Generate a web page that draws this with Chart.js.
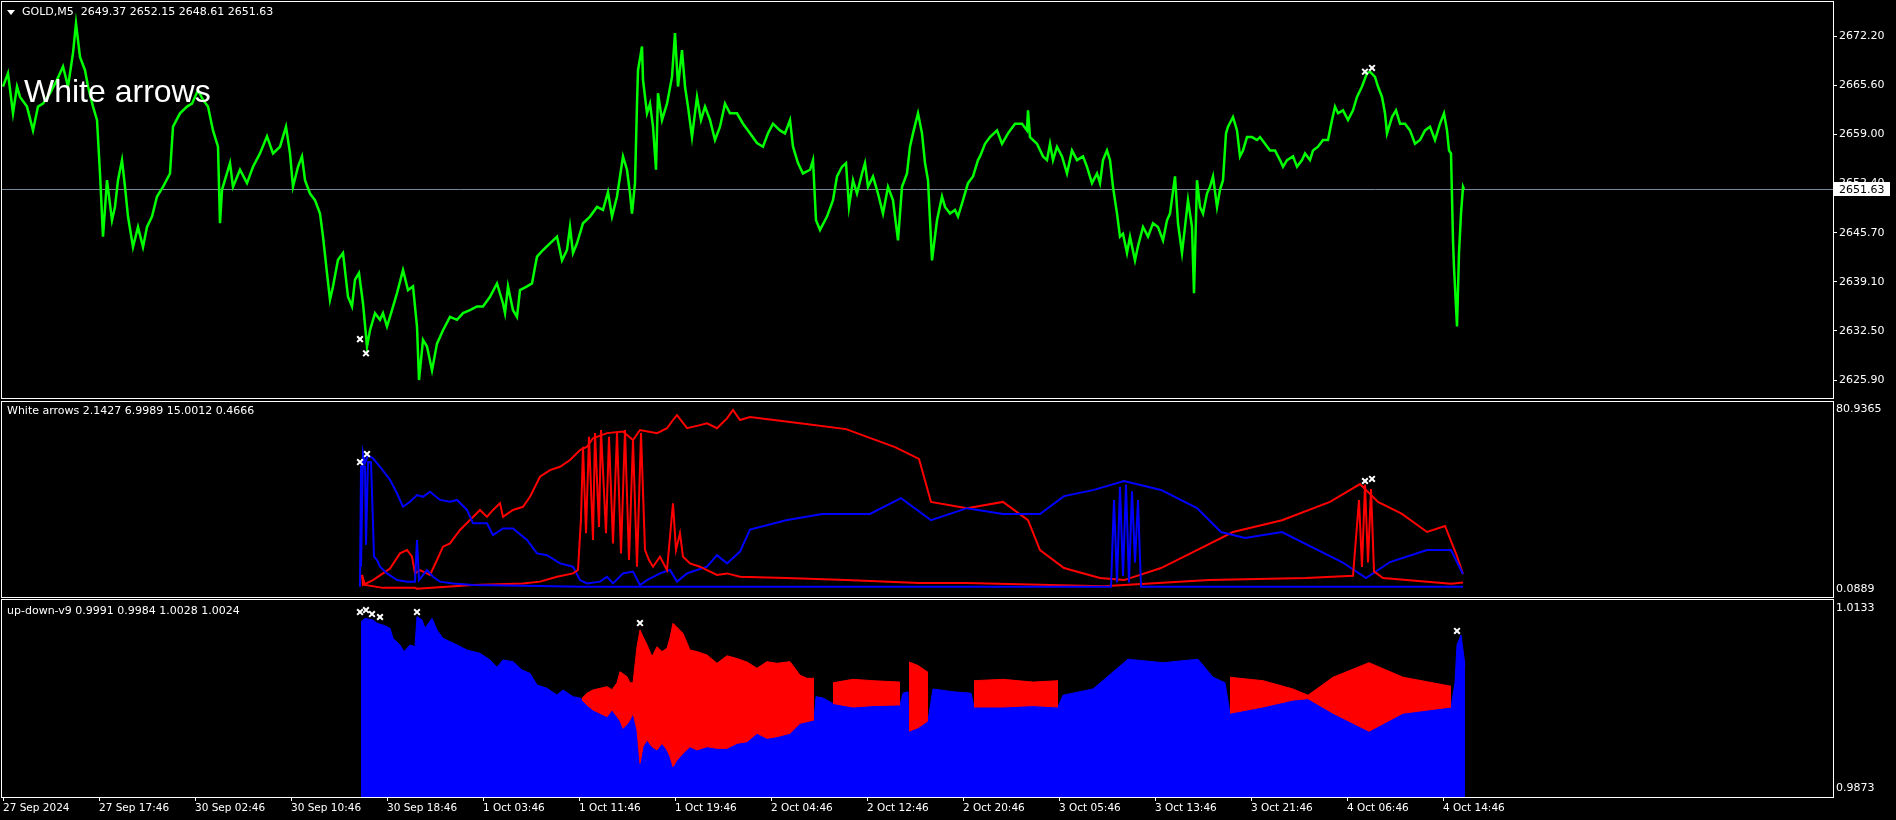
<!DOCTYPE html>
<html>
<head>
<meta charset="utf-8">
<script src="https://cdn.jsdelivr.net/npm/chart.js@4.4.1/dist/chart.umd.min.js"></script>
<style>
  html, body { margin: 0; background: #000; overflow: hidden; }
  #wrap { position: relative; width: 1896px; height: 820px; }
  .pane { position: absolute; left: 0; width: 1896px; }
  .txt { position: absolute; color: #fff; font-family: "DejaVu Sans", sans-serif; font-size: 11px; line-height: 14px; white-space: pre; pointer-events: none; }
  #tri { position: absolute; left: 7px; top: 10px; width: 0; height: 0; border-left: 4px solid transparent; border-right: 4px solid transparent; border-top: 5px solid #fff; }
  #big { position: absolute; left: 24px; top: 75px; color: #fff; font-family: "Liberation Sans", Arial, sans-serif; font-size: 32px; line-height: 32px; pointer-events: none; }
</style>
</head>
<body>
<div id="wrap">
  <div class="pane" style="top:0;height:400px"><canvas id="priceChart"></canvas></div>
  <div class="pane" style="top:400px;height:199px"><canvas id="arrowsChart"></canvas></div>
  <div class="pane" style="top:598px;height:222px"><canvas id="updownChart"></canvas></div>
  <div id="tri"></div>
  <div class="txt" style="left:22px;top:5px">GOLD,M5  2649.37 2652.15 2648.61 2651.63</div>
  <div id="big">White arrows</div>
  <div class="txt" style="left:7px;top:404px">White arrows 2.1427 6.9989 15.0012 0.4666</div>
  <div class="txt" style="left:7px;top:604px">up-down-v9 0.9991 0.9984 1.0028 1.0024</div>
</div>
<script>
// ---- axis labels ----
const timeBars = [0, 96, 192, 288, 384, 480, 576, 672, 768, 864, 960, 1056, 1152, 1248, 1344, 1440];
const timeLabels = ["27 Sep 2024", "27 Sep 17:46", "30 Sep 02:46", "30 Sep 10:46", "30 Sep 18:46", "1 Oct 03:46",
  "1 Oct 11:46", "1 Oct 19:46", "2 Oct 04:46", "2 Oct 12:46", "2 Oct 20:46", "3 Oct 05:46", "3 Oct 13:46",
  "3 Oct 21:46", "4 Oct 06:46", "4 Oct 14:46"];
const priceTicks = [2625.90, 2632.50, 2639.10, 2645.70, 2652.40, 2659.00, 2665.60, 2672.20];
const lastClose = 2651.63;

// ---- GOLD M5 close (bar index, price) ----
const priceBars = [0, 5, 10, 14, 17, 24, 30, 35, 40, 47, 54, 60, 65, 70, 73, 77, 82, 85, 90, 94, 97, 100, 104, 109, 112, 115, 119, 122, 125, 130,
  135, 140, 144, 149, 154, 160, 167, 170, 177, 184, 189, 195, 200, 205, 210, 215, 217, 219, 227, 230, 237, 244, 250, 257, 264, 270, 277, 283, 287, 290,
  295, 299, 302, 307, 312, 317, 320, 324, 327, 330, 335, 340, 345, 349, 352, 356, 360, 364, 367, 372, 377, 380, 384, 389, 394, 400, 405, 410, 414, 416,
  420, 424, 429, 434, 440, 447, 454, 460, 467, 474, 480, 487, 494, 500, 502, 505, 510, 514, 517, 524, 529, 532, 534, 540, 547, 554, 559, 564, 567, 570,
  574, 580, 587, 594, 600, 605, 609, 614, 617, 620, 624, 627, 629, 632, 634, 635, 639, 640, 644, 647, 650, 653, 655, 659, 664, 669, 672, 675, 679, 682,
  685, 689, 694, 698, 702, 707, 712, 717, 722, 727, 734, 740, 747, 754, 760, 765, 770, 777, 782, 787, 790, 795, 800, 807, 810, 813, 817, 824, 830, 834,
  839, 843, 846, 850, 854, 859, 862, 865, 870, 875, 880, 885, 890, 895, 899, 904, 907, 910, 915, 919, 922, 925, 929, 934, 939, 942, 947, 952, 955, 960,
  965, 970, 975, 977, 982, 987, 994, 999, 1005, 1012, 1019, 1024, 1025, 1027, 1034, 1040, 1044, 1047, 1050, 1054, 1059, 1064, 1069, 1074, 1080, 1084, 1089, 1094,
  1097, 1100, 1104, 1107, 1110, 1114, 1117, 1120, 1124, 1127, 1132, 1135, 1140, 1145, 1150, 1155, 1160, 1164, 1167, 1172, 1175, 1179, 1182, 1185, 1189, 1191,
  1194, 1197, 1200, 1204, 1207, 1210, 1214, 1217, 1220, 1223, 1225, 1230, 1234, 1237, 1240, 1244, 1249, 1254, 1257, 1262, 1267, 1272, 1277, 1280, 1284, 1290,
  1294, 1299, 1302, 1307, 1310, 1315, 1320, 1325, 1329, 1332, 1335, 1340, 1345, 1350, 1354, 1359, 1364, 1367, 1372, 1375, 1379, 1382, 1384, 1389, 1393, 1397,
  1402, 1407, 1412, 1417, 1422, 1427, 1432, 1437, 1441, 1444, 1446, 1448, 1450, 1451, 1454, 1456, 1458, 1460, 1461];
const priceClose = [2665.4, 2667.2, 2661.8, 2665.4, 2664.0, 2662.7, 2659.5, 2662.7, 2663.1, 2664.5, 2666.3, 2668.1, 2665.4, 2669.9, 2673.9, 2669.4, 2667.6, 2665.4, 2662.7, 2660.9, 2653.7, 2645.2, 2652.8, 2647.4, 2649.2, 2652.8, 2655.5, 2651.9, 2647.9, 2643.8,
  2646.5, 2643.8, 2646.5, 2647.9, 2650.6, 2651.9, 2653.7, 2660.0, 2661.8, 2662.7, 2663.1, 2664.9, 2663.6, 2662.7, 2659.5, 2657.3, 2647.0, 2651.5, 2655.1, 2651.9, 2654.2, 2652.4, 2654.6, 2656.4, 2658.7, 2656.4, 2657.3, 2660.0, 2656.4, 2651.9,
  2654.6, 2656.0, 2652.8, 2651.0, 2650.1, 2648.3, 2645.2, 2640.3, 2636.7, 2638.5, 2642.1, 2643.0, 2637.1, 2635.8, 2639.4, 2640.3, 2636.2, 2630.4, 2632.6, 2634.9, 2634.0, 2634.9, 2633.1, 2635.3, 2637.6, 2640.7, 2638.0, 2638.5, 2633.1, 2625.9,
  2631.3, 2630.4, 2627.2, 2630.8, 2632.6, 2634.4, 2634.0, 2634.9, 2635.3, 2635.8, 2635.8, 2637.1, 2638.9, 2636.2, 2634.9, 2638.5, 2635.3, 2634.4, 2638.0, 2638.5, 2638.9, 2641.1, 2642.5, 2643.4, 2644.3, 2645.2, 2642.0, 2643.4, 2646.5, 2643.0,
  2644.3, 2647.0, 2647.9, 2649.2, 2648.8, 2651.2, 2647.9, 2650.6, 2653.3, 2656.0, 2654.2, 2651.0, 2648.3, 2652.4, 2663.1, 2667.6, 2670.8, 2666.3, 2661.8, 2663.1, 2660.0, 2654.2, 2664.5, 2660.9, 2663.1, 2666.7, 2672.6, 2665.4, 2670.3, 2665.4,
  2662.7, 2658.6, 2664.0, 2660.9, 2662.7, 2660.9, 2658.2, 2660.0, 2663.1, 2661.8, 2661.8, 2660.4, 2659.1, 2657.8, 2657.3, 2659.1, 2660.4, 2659.5, 2659.1, 2660.9, 2657.3, 2655.1, 2653.7, 2654.2, 2655.5, 2647.4, 2646.1, 2647.9, 2650.1, 2653.3,
  2654.6, 2655.1, 2649.2, 2652.8, 2651.0, 2653.7, 2655.1, 2651.9, 2653.3, 2651.0, 2648.3, 2651.9, 2650.1, 2644.7, 2651.9, 2653.7, 2657.3, 2659.1, 2661.8, 2659.1, 2655.1, 2652.8, 2642.0, 2647.4, 2650.6, 2649.2, 2648.3, 2648.8, 2647.9, 2650.1,
  2652.4, 2653.3, 2655.5, 2656.0, 2657.7, 2658.6, 2659.5, 2657.7, 2659.1, 2660.4, 2660.4, 2659.5, 2662.2, 2658.6, 2657.7, 2656.0, 2655.5, 2657.7, 2655.5, 2657.3, 2656.0, 2653.7, 2656.8, 2655.5, 2656.0, 2654.6, 2652.4, 2653.7,
  2652.4, 2655.5, 2656.8, 2655.5, 2651.9, 2648.3, 2645.2, 2645.6, 2643.0, 2645.2, 2642.0, 2643.9, 2646.5, 2645.2, 2647.0, 2646.5, 2644.7, 2647.4, 2648.3, 2653.3, 2647.0, 2643.0, 2646.5, 2650.1, 2646.5, 2637.6,
  2652.8, 2649.2, 2648.3, 2651.0, 2651.9, 2653.3, 2649.2, 2651.5, 2652.8, 2659.1, 2660.0, 2661.3, 2659.5, 2656.0, 2656.8, 2658.6, 2658.6, 2658.2, 2658.6, 2657.7, 2656.8, 2656.8, 2655.5, 2654.6, 2655.5, 2656.0,
  2654.6, 2655.5, 2656.4, 2655.5, 2656.8, 2657.3, 2658.2, 2658.2, 2660.9, 2662.7, 2661.8, 2662.2, 2660.9, 2662.2, 2664.0, 2665.4, 2667.2, 2667.4, 2666.7, 2665.4, 2664.0, 2661.8, 2659.1, 2661.3, 2662.2, 2660.4,
  2660.4, 2659.5, 2657.7, 2658.2, 2659.5, 2660.0, 2658.2, 2660.4, 2661.8, 2659.5, 2656.8, 2656.4, 2644.7, 2641.1, 2633.1, 2643.0, 2648.3, 2651.9, 2651.6];

// ---- white arrow marks ----
const markMainBars = [357, 363, 1362, 1369];
const markMainVals = [2631.4, 2629.5, 2667.4, 2667.9];
const markOscBars = [357, 364, 1362, 1369];
const markOscVals = [57.1, 60.7, 48.6, 49.5];
const markUdBars = [357, 363, 369, 377, 414, 637, 1454];
const markUdVals = [1.01272, 1.01301, 1.01243, 1.01200, 1.01272, 1.01113, 1.00998];

// ---- White arrows oscillator ----
const blueUpBars = [358, 360, 362, 365, 370, 377, 387, 394, 400, 407, 414, 420, 427, 437, 447, 454, 464, 470, 484, 490, 500, 510, 524, 534, 544, 557, 570, 577, 584, 597,
  604, 610, 620, 630, 637, 644, 657, 667, 674, 684, 694, 704, 714, 724, 737, 747, 783, 819, 867, 898, 928, 964, 1000, 1037, 1061, 1091, 1121, 1158, 1194, 1218,
  1242, 1279, 1315, 1339, 1363, 1387, 1424, 1448, 1460];
const blueUpVals = [10.1, 61.1, 56.6, 60.2, 58.8, 55.0, 49.1, 43.1, 37.0, 39.3, 42.3, 41.5, 43.8, 40.1, 39.3, 40.1, 35.6, 29.6, 29.6, 24.3, 27.3, 27.3, 22.1, 16.1, 15.3, 11.6, 10.1, 4.1, 2.6, 3.4,
  5.6, 2.6, 7.1, 7.9, 1.9, 4.1, 7.1, 8.6, 3.4, 7.1, 8.6, 10.1, 15.3, 11.6, 16.9, 26.8, 31.0, 33.8, 33.8, 40.9, 31.0, 36.4, 33.8, 33.8, 41.8, 44.6, 48.6, 44.6, 36.4, 25.7,
  23.0, 25.7, 17.6, 12.2, 5.0, 12.2, 17.6, 17.6, 6.8];
const blueLoBars = [357, 358, 362, 363, 365, 368, 370, 371, 374, 377, 384, 394, 404, 412, 414, 416, 424, 430, 437, 450, 470, 537, 577, 1108, 1111, 1114, 1117, 1120, 1123, 1126,
  1129, 1132, 1135, 1138, 1460];
const blueLoVals = [1.1, 55.0, 55.0, 20.0, 57.0, 57.0, 29.6, 14.6, 13.1, 10.1, 7.1, 4.1, 3.4, 3.4, 22.1, 4.1, 8.6, 5.6, 3.4, 2.6, 1.9, 1.4, 1.1, 1.1, 40.0, 3.0, 46.0, 6.0, 47.0, 3.0,
  44.0, 12.0, 40.0, 1.1, 1.1];
const redUpBars = [359, 360, 370, 380, 387, 397, 404, 409, 412, 417, 427, 434, 440, 447, 457, 467, 477, 484, 490, 497, 500, 510, 520, 527, 537, 547, 557, 567, 577, 584,
  590, 604, 620, 630, 637, 654, 664, 670, 674, 684, 697, 704, 714, 724, 730, 737, 747, 795, 843, 892, 916, 928, 964, 1000, 1025, 1037, 1061, 1097, 1121, 1158,
  1194, 1230, 1279, 1327, 1357, 1375, 1399, 1424, 1442, 1454, 1460];
const redUpVals = [6.4, 1.9, 4.1, 7.1, 9.3, 16.1, 17.6, 14.6, 7.1, 8.6, 6.4, 13.1, 19.1, 20.6, 26.6, 31.1, 35.6, 32.5, 35.6, 38.6, 32.5, 35.6, 37.0, 41.5, 50.5, 53.5, 55.0, 58.0, 62.5, 64.0,
  67.8, 70.1, 70.8, 67.0, 71.5, 70.1, 72.3, 76.0, 78.2, 72.3, 73.7, 74.5, 72.3, 76.7, 80.5, 76.0, 77.3, 74.7, 71.9, 63.8, 58.5, 39.2, 36.4, 39.2, 31.0, 17.6, 9.5, 5.0, 4.1, 9.5,
  17.6, 25.7, 31.0, 39.2, 47.2, 39.2, 33.8, 25.7, 28.4, 14.9, 6.8];
const redLoBars = [359, 362, 380, 412, 414, 470, 520, 537, 554, 570, 575, 578, 580, 583, 586, 590, 592, 596, 598, 603, 606, 610, 614, 618, 622, 626, 630, 634, 638, 642,
  646, 650, 657, 664, 670, 673, 677, 680, 687, 697, 704, 714, 724, 737, 783, 843, 916, 964, 1100, 1206, 1303, 1350, 1356, 1359, 1362, 1365, 1368, 1371, 1380, 1448,
  1460];
const redLoVals = [6.4, 1.9, 0.6, 0.6, 0.2, 1.9, 2.6, 3.4, 5.6, 7.1, 8.6, 31.8, 64.0, 25.1, 68.5, 22.1, 70.1, 28.0, 71.5, 25.1, 68.5, 20.6, 70.1, 16.1, 71.5, 13.1, 67.0, 10.1, 70.1, 17.6,
  13.1, 10.1, 14.6, 8.6, 38.6, 17.6, 25.1, 14.6, 11.6, 10.1, 8.6, 6.4, 7.1, 5.6, 5.0, 4.1, 2.8, 2.8, 1.3, 4.1, 5.0, 6.0, 40.0, 10.0, 47.0, 12.0, 45.0, 8.0, 5.0, 2.5,
  3.0];

// ---- up-down-v9 histogram ----
const blueBars = [358, 362, 370, 374, 380, 387, 390, 397, 401, 407, 412, 414, 419, 422, 429, 434, 440, 447, 454, 464, 477, 487, 494, 500, 510, 519, 527, 534, 544, 554,
  560, 570, 578, 813, 820, 900, 905, 930, 950, 968, 1060, 1090, 1125, 1160, 1195, 1210, 1222, 1452, 1454, 1458, 1462];
const blueTop = [1.01133, 1.01180, 1.01157, 1.01109, 1.01084, 1.01036, 1.00892, 1.00796, 1.00699, 1.00796, 1.00771, 1.01205, 1.01157, 1.01036, 1.01181, 1.01012, 1.00892, 1.00844, 1.00796, 1.00723, 1.00675, 1.00579, 1.00473, 1.00579, 1.00555, 1.00434, 1.00386, 1.00218, 1.00170, 1.00073,
  1.00146, 1.00049, 1.00025, 1.00049, 1.00030, 1.00100, 1.00120, 1.00160, 1.00120, 1.00100, 1.00070, 1.00160, 1.00590, 1.00540, 1.00590, 1.00330, 1.00250, 1.00250, 1.00800, 1.00940, 1.00500];
const redBars = [579, 584, 590, 597, 604, 609, 614, 617, 620, 624, 627, 630, 634, 637, 640, 644, 649, 654, 659, 664, 667, 670, 674, 680, 687, 694, 704, 714, 724, 734,
  744, 754, 764, 774, 787, 797, 804, 811, 812,
  830, 850, 870, 897, 898,
  906, 915, 925, 926,
  971, 1000, 1030, 1055, 1056,
  1227, 1260, 1290, 1305, 1330, 1366, 1400, 1448];
const redHi = [1.00025, 1.00100, 1.00146, 1.00170, 1.00194, 1.00150, 1.00250, 1.00410, 1.00380, 1.00338, 1.00250, 1.00250, 1.00771, 1.01012, 1.00916, 1.00800, 1.00627, 1.00771, 1.00700, 1.00750, 1.00900, 1.01109, 1.01050, 1.00964, 1.00723, 1.00700, 1.00651, 1.00531, 1.00640, 1.00600,
  1.00550, 1.00459, 1.00555, 1.00531, 1.00555, 1.00360, 1.00314, 1.00314, null,
  1.00250, 1.00300, 1.00280, 1.00260, null,
  1.00550, 1.00500, 1.00400, null,
  1.00280, 1.00300, 1.00260, 1.00280, null,
  1.00330, 1.00280, 1.00160, 1.00070, 1.00330, 1.00540, 1.00330, 1.00200];
const redLo = [1.00001, 0.99929, 0.99857, 0.99808, 0.99760, 0.99857, 0.99760, 0.99700, 0.99592, 0.99650, 0.99712, 0.99808, 0.99568, 0.99086, 0.99327, 0.99423, 0.99327, 0.99279, 0.99375, 0.99279, 0.99183, 0.99038, 0.99134, 0.99230, 0.99327, 0.99279, 0.99327, 0.99303, 0.99303, 0.99375,
  0.99399, 0.99520, 0.99447, 0.99471, 0.99520, 0.99664, 0.99688, 0.99712, null,
  0.99950, 0.99900, 0.99920, 0.99930, null,
  0.99550, 0.99600, 0.99700, null,
  0.99900, 0.99900, 0.99920, 0.99900, null,
  0.99810, 0.99900, 1.00000, 1.00020, 0.99810, 0.99550, 0.99810, 0.99900];

const FONT = "DejaVu Sans";
const pts = (xs, ys) => xs.map((x, i) => ({ x: x, y: ys[i] }));

const frame = {
  id: "frame",
  afterDraw(chart) {
    const { ctx, chartArea: a } = chart;
    ctx.save();
    ctx.strokeStyle = "#ffffff";
    ctx.lineWidth = 1;
    ctx.strokeRect(a.left - 0.5, a.top - 0.5, a.right - a.left + 1, a.bottom - a.top + 1);
    ctx.restore();
  }
};

const lastPriceLine = {
  id: "lastPriceLine",
  beforeDatasetsDraw(chart) {
    const { ctx, chartArea: a } = chart;
    const y = Math.round(chart.scales.y.getPixelForValue(lastClose)) + 0.5;
    ctx.save();
    ctx.strokeStyle = "#778899";
    ctx.lineWidth = 1;
    ctx.beginPath();
    ctx.moveTo(a.left, y);
    ctx.lineTo(a.right, y);
    ctx.stroke();
    ctx.restore();
  },
  afterDraw(chart) {
    const { ctx, chartArea: a } = chart;
    const y = Math.round(chart.scales.y.getPixelForValue(lastClose));
    ctx.save();
    ctx.fillStyle = "#ffffff";
    ctx.fillRect(a.right + 1, y - 7, 56, 14);
    ctx.fillStyle = "#000000";
    ctx.font = "11px " + FONT;
    ctx.textBaseline = "middle";
    ctx.fillText(lastClose.toFixed(2), a.right + 6, y + 1);
    ctx.restore();
  }
};

// no automatic label padding: the panes must keep their exact frames
function noPad(s) {
  s.paddingTop = 0; s.paddingBottom = 0; s.paddingLeft = 0; s.paddingRight = 0;
}

function xAxis(show) {
  return {
    type: "linear", min: -1, max: 1830, display: show,
    border: { display: false },
    grid: { drawOnChartArea: false, drawTicks: true, tickLength: 4, color: "#ffffff" },
    afterBuildTicks: s => { s.ticks = timeBars.map(v => ({ value: v })); },
    afterFit: s => { noPad(s); if (show) s.height = 23; },
    ticks: {
      color: "#ffffff", align: "start", autoSkip: false, maxRotation: 0, minRotation: 0, padding: 1,
      font: { family: FONT, size: 10.5 },
      callback: (v, i) => timeLabels[i]
    }
  };
}

function yAxis(min, max, tickVals, fmt, tickLen) {
  return {
    type: "linear", position: "right", min: min, max: max,
    border: { display: false },
    grid: { drawOnChartArea: false, drawTicks: tickLen > 0, tickLength: tickLen, color: "#ffffff" },
    afterBuildTicks: s => { s.ticks = tickVals.map(v => ({ value: v })); },
    afterFit: s => { noPad(s); s.width = 63; },
    ticks: { color: "#ffffff", padding: tickLen > 0 ? 2 : 3, font: { family: FONT, size: 11 }, callback: v => v.toFixed(fmt) }
  };
}

function baseOptions(padding, y, showX) {
  return {
    responsive: true, maintainAspectRatio: false, animation: false, events: [],
    layout: { padding: padding, autoPadding: false },
    plugins: { legend: { display: false }, tooltip: { enabled: false } },
    elements: { point: { radius: 0 }, line: { tension: 0 } },
    scales: { x: xAxis(showX), y: y }
  };
}

function marks(xs, ys) {
  return {
    type: "scatter", data: pts(xs, ys), showLine: false,
    pointStyle: "crossRot", pointRadius: 4, borderColor: "#ffffff", backgroundColor: "#ffffff", pointBorderWidth: 2
  };
}

// 1) price
new Chart(document.getElementById("priceChart"), {
  type: "line",
  data: {
    datasets: [
      marks(markMainBars, markMainVals),
      { data: pts(priceBars, priceClose), borderColor: "#00ff00", borderWidth: 2.5, pointRadius: 0 }
    ]
  },
  options: baseOptions({ left: 2, top: 2, right: 0, bottom: 2 }, yAxis(2623.48, 2676.78, priceTicks, 2, 4), false),
  plugins: [frame, lastPriceLine]
});

// 2) White arrows oscillator
new Chart(document.getElementById("arrowsChart"), {
  type: "line",
  data: {
    datasets: [
      marks(markOscBars, markOscVals),
      { data: pts(blueLoBars, blueLoVals), borderColor: "#0000ff", borderWidth: 2 },
      { data: pts(redLoBars, redLoVals), borderColor: "#ff0000", borderWidth: 2 },
      { data: pts(blueUpBars, blueUpVals), borderColor: "#0000ff", borderWidth: 2 },
      { data: pts(redUpBars, redUpVals), borderColor: "#ff0000", borderWidth: 2 }
    ]
  },
  options: baseOptions({ left: 2, top: 2, right: 0, bottom: 2 }, yAxis(-3.50, 84.08, [0.0889, 80.9365], 4, 0), false),
  plugins: [frame]
});

// 3) up-down-v9 histogram
const blueFill = pts(blueBars, blueTop)
  .concat(pts(redBars, redLo).filter(p => p.y !== null))
  .sort((a, b) => a.x - b.x);

new Chart(document.getElementById("updownChart"), {
  type: "line",
  data: {
    datasets: [
      marks(markUdBars, markUdVals),
      { data: pts(redBars, redHi), borderColor: "#ff0000", borderWidth: 1, backgroundColor: "#ff0000", fill: "+1", spanGaps: false },
      { data: pts(redBars, redLo), borderColor: "#ff0000", borderWidth: 1, fill: false, spanGaps: false },
      { data: blueFill, borderColor: "#0000ff", borderWidth: 1, backgroundColor: "#0000ff", fill: "start" }
    ]
  },
  options: baseOptions({ left: 2, top: 2, right: 0, bottom: 0 }, yAxis(0.98600, 1.014456, [0.9873, 1.0133], 4, 0), true),
  plugins: [frame]
});
</script>
</body>
</html>
